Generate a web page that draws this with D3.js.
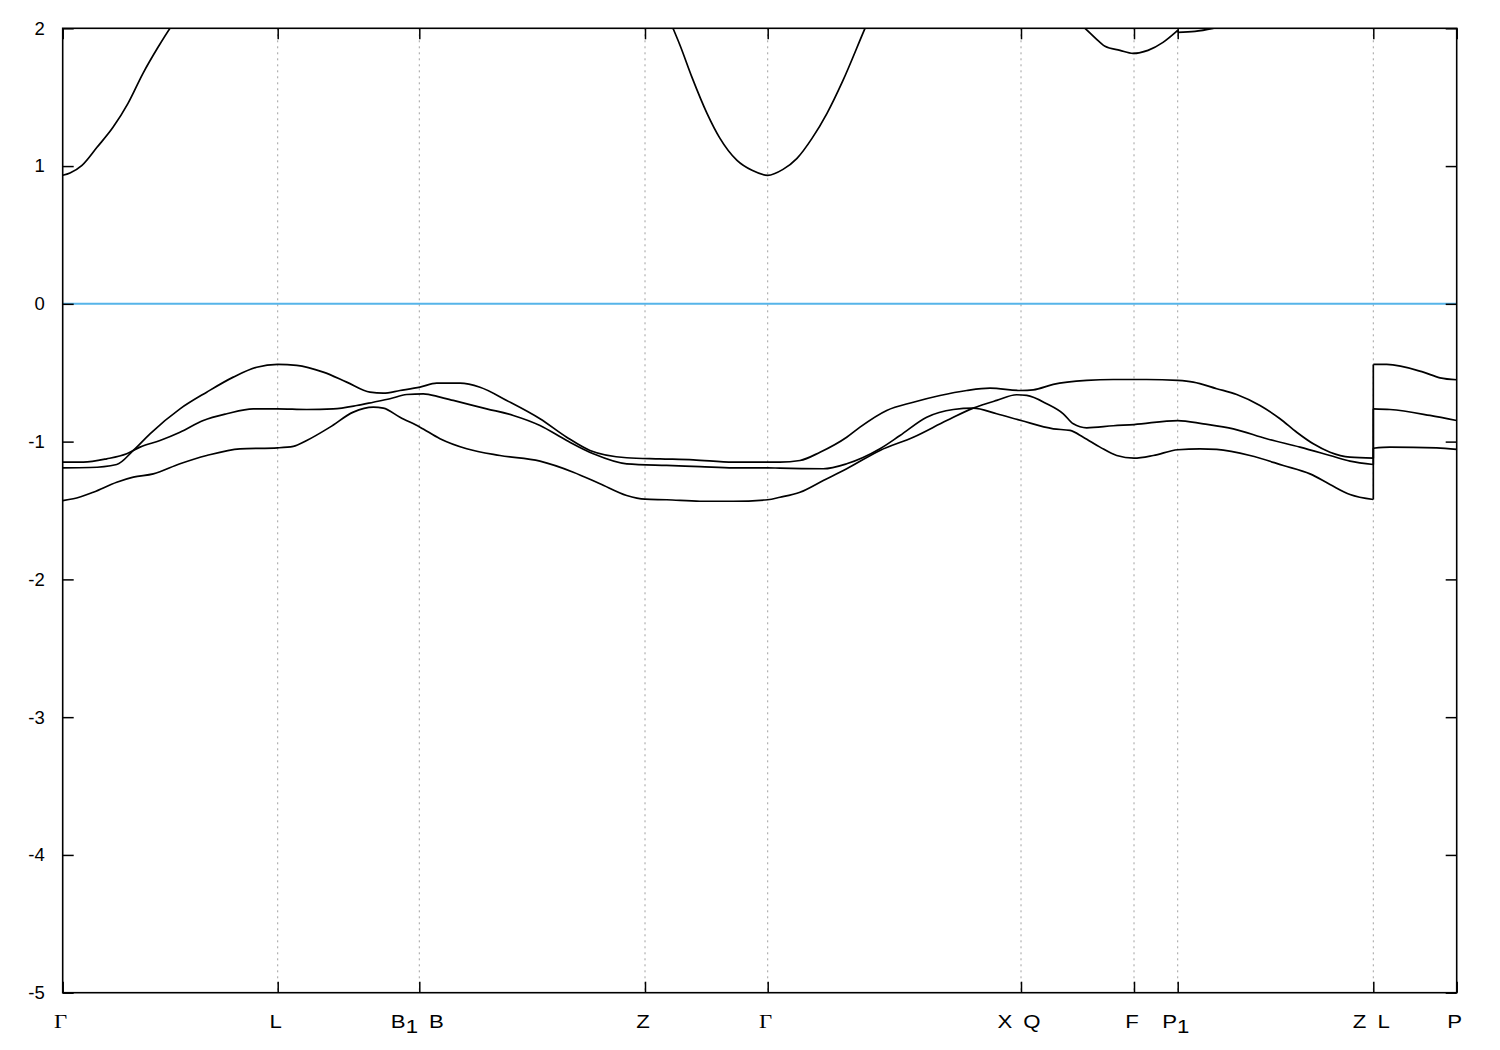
<!DOCTYPE html>
<html>
<head>
<meta charset="utf-8">
<script src="https://cdn.jsdelivr.net/npm/d3@7"></script>
<style>
  html, body { margin: 0; padding: 0; background: #ffffff; }
  svg { display: block; }
</style>
</head>
<body>
<svg id="chart" width="1500" height="1050"></svg>
<script>
// ---------------- data ----------------
const kTicks  = [0, 2.15, 3.566, 5.823, 7.05, 9.583, 10.713, 11.15, 13.106, 13.94];
const kLabels = ["Γ", "L", "B_1 B", "Z", "Γ", "X Q", "F", "P_1", "Z L", "P"];
const eTicks  = [2, 1, 0, -1, -2, -3, -4, -5];
const eDomain = [-5, 2];
const fermiLevel = 0;

// valence bands [k, E]
const band1 = [
  [0,-1.190],[0.273,-1.188],[0.54,-1.166],[0.706,-1.064],[0.873,-0.943],[1.173,-0.762],
  [1.44,-0.641],[1.706,-0.532],[1.94,-0.460],[2.15,-0.440],[2.34,-0.447],[2.606,-0.496],
  [2.84,-0.568],[3.073,-0.641],[3.206,-0.648],[3.373,-0.629],[3.573,-0.605],[3.74,-0.576],
  [3.973,-0.576],[4.173,-0.605],[4.44,-0.701],[4.773,-0.834],[5.04,-0.968],[5.273,-1.064],
  [5.64,-1.117],[5.973,-1.125],[6.306,-1.132],[6.706,-1.149],[7.05,-1.149],[7.173,-1.149],
  [7.373,-1.137],[7.573,-1.077],[7.84,-0.968],[7.973,-0.895],[8.24,-0.774],[8.506,-0.714],
  [8.773,-0.665],[9.04,-0.629],[9.273,-0.612],[9.583,-0.629],[9.706,-0.624],[9.906,-0.585],
  [10.24,-0.556],[10.506,-0.549],[10.84,-0.549],[11.15,-0.556],[11.306,-0.568],[11.54,-0.616],
  [11.74,-0.658],[11.973,-0.738],[12.173,-0.834],[12.34,-0.932],[12.506,-1.016],[12.673,-1.077],
  [12.873,-1.113],[13.106,-1.120],
  [13.106,-0.440],[13.24,-0.440],[13.606,-0.496],[13.773,-0.537],[13.94,-0.551]
];
const band2 = [
  [0,-1.149],[0.206,-1.149],[0.44,-1.125],[0.64,-1.088],[0.773,-1.040],[0.973,-0.992],
  [1.173,-0.932],[1.406,-0.847],[1.64,-0.798],[1.906,-0.762],[2.15,-0.762],[2.44,-0.767],
  [2.706,-0.762],[2.94,-0.738],[3.106,-0.714],[3.273,-0.689],[3.44,-0.658],[3.606,-0.653],
  [3.773,-0.677],[3.906,-0.701],[4.24,-0.762],[4.506,-0.810],[4.773,-0.883],[5.04,-0.992],
  [5.306,-1.088],[5.64,-1.161],[6.04,-1.173],[6.373,-1.181],[6.706,-1.190],[7.05,-1.190],
  [7.173,-1.193],[7.606,-1.197],[7.84,-1.161],[8.173,-1.052],[8.373,-0.956],[8.64,-0.823],
  [8.906,-0.767],[9.106,-0.757],[9.34,-0.798],[9.583,-0.847],[9.906,-0.907],[10.073,-0.919],
  [10.206,-0.968],[10.373,-1.040],[10.54,-1.101],[10.713,-1.120],[10.906,-1.101],[11.15,-1.059],
  [11.373,-1.052],[11.54,-1.057],[11.873,-1.101],[12.206,-1.173],[12.473,-1.234],[12.673,-1.311],
  [12.873,-1.384],[13.106,-1.420],
  [13.106,-0.762],[13.273,-0.767],[13.673,-0.810],[13.94,-0.847]
];
const band3 = [
  [0,-1.428],[0.106,-1.415],[0.306,-1.367],[0.54,-1.295],[0.706,-1.258],[0.906,-1.234],
  [1.173,-1.161],[1.44,-1.101],[1.773,-1.052],[2.15,-1.045],[2.306,-1.035],[2.44,-0.992],
  [2.673,-0.895],[2.906,-0.786],[3.106,-0.750],[3.206,-0.757],[3.373,-0.823],[3.573,-0.895],
  [3.773,-0.979],[4.04,-1.052],[4.373,-1.101],[4.773,-1.142],[5.106,-1.222],[5.373,-1.306],
  [5.64,-1.391],[5.823,-1.418],[6.04,-1.422],[6.373,-1.433],[6.706,-1.433],[7.05,-1.422],
  [7.173,-1.404],[7.373,-1.367],[7.606,-1.282],[7.84,-1.197],[8.173,-1.064],[8.506,-0.968],
  [8.84,-0.847],[9.106,-0.757],[9.34,-0.701],[9.54,-0.660],[9.64,-0.665],[9.84,-0.725],
  [10.006,-0.798],[10.106,-0.871],[10.24,-0.900],[10.506,-0.885],[10.713,-0.876],[11.15,-0.847],
  [11.406,-0.871],[11.706,-0.907],[12.04,-0.979],[12.373,-1.040],[12.673,-1.101],[12.873,-1.142],
  [13.106,-1.166],
  [13.106,-1.048],[13.273,-1.040],[13.74,-1.045],[13.94,-1.057]
];
// conduction band (values above 2 eV lie outside the visible window)
const band4 = [
  [0,0.933],[0.073,0.950],[0.193,1.005],[0.343,1.136],[0.503,1.281],[0.653,1.455],
  [0.803,1.673],[0.953,1.862],[1.073,2.0],[1.223,2.15],[2.15,2.7],[3.566,3.0],[5.823,2.45],
  [6.103,2.0],[6.173,1.877],[6.293,1.644],[6.443,1.383],[6.573,1.201],[6.743,1.041],
  [6.893,0.969],[7.05,0.933],[7.203,0.976],[7.343,1.056],[7.493,1.201],[7.643,1.383],
  [7.803,1.622],[8.023,2.0],[8.173,2.25],[9.583,2.35],[9.973,2.15],[10.223,2.0],
  [10.373,1.898],[10.423,1.869],[10.573,1.840],[10.703,1.818],[10.853,1.840],[11.003,1.898],
  [11.15,1.985],
  [11.15,1.971],[11.323,1.978],[11.503,2.0],[11.773,2.05],[13.106,2.4],[13.94,2.45]
];
const bands = [band1, band2, band3, band4];

// ---------------- layout ----------------
const plotL = 62.7, plotR = 1456.7, plotT = 28.3, plotB = 992.7;
const svg = d3.select("#chart");
const x = d3.scaleLinear().domain([kTicks[0], kTicks[kTicks.length - 1]]).range([plotL, plotR]);
const y = d3.scaleLinear().domain(eDomain).range([plotB, plotT]);

svg.append("defs").append("clipPath").attr("id", "plotClip")
  .append("rect").attr("x", plotL).attr("y", plotT)
  .attr("width", plotR - plotL).attr("height", plotB - plotT);

// grid (vertical dashed at interior high-symmetry points)
svg.append("g").selectAll("line")
  .data(kTicks.slice(1, -1))
  .join("line")
  .attr("x1", d => x(d)).attr("x2", d => x(d))
  .attr("y1", plotT).attr("y2", plotB)
  .attr("stroke", "#a0a0a0").attr("stroke-width", 1)
  .attr("stroke-dasharray", "2,4");

// Fermi level
svg.append("line")
  .attr("x1", plotL).attr("x2", plotR)
  .attr("y1", y(fermiLevel)).attr("y2", y(fermiLevel))
  .attr("stroke", "#56b4e9").attr("stroke-width", 2);

// bands
const plot = svg.append("g").attr("clip-path", "url(#plotClip)");
const line = d3.line().x(d => x(d[0])).y(d => y(d[1])).curve(d3.curveMonotoneX);
bands.forEach(b => {
  const segs = [[b[0]]];
  for (let i = 1; i < b.length; i++) {
    if (b[i][0] === b[i - 1][0]) segs.push([b[i]]);
    else segs[segs.length - 1].push(b[i]);
  }
  segs.forEach((s, i) => {
    plot.append("path").attr("d", line(s))
      .attr("fill", "none").attr("stroke", "#000").attr("stroke-width", 1.7)
      .attr("stroke-linejoin", "round");
    if (i > 0) {
      const a = segs[i - 1][segs[i - 1].length - 1], c = s[0];
      plot.append("line")
        .attr("x1", x(a[0])).attr("y1", y(a[1]))
        .attr("x2", x(c[0])).attr("y2", y(c[1]))
        .attr("stroke", "#000").attr("stroke-width", 1.7);
    }
  });
});

// axes
const font = "'Liberation Sans', Arial, Helvetica, sans-serif";
const tickLen = 11;
const yAxisL = d3.axisLeft(y).tickValues(eTicks).tickSize(-tickLen).tickSizeOuter(0).tickPadding(18)
  .tickFormat(d => String(d));
const yAxisR = d3.axisRight(y).tickValues(eTicks).tickSize(-tickLen).tickSizeOuter(0).tickFormat("");
const xAxisB = d3.axisBottom(x).tickValues(kTicks).tickSize(-tickLen).tickSizeOuter(0).tickFormat("");
const xAxisT = d3.axisTop(x).tickValues(kTicks).tickSize(-tickLen).tickSizeOuter(0).tickFormat("");

function styleAxis(g) {
  g.select(".domain").remove();
  g.selectAll(".tick line").attr("stroke", "#000").attr("stroke-width", 1.5);
  g.selectAll(".tick text").attr("fill", "#000").style("font-family", font).style("font-size", "18.5px");
}
svg.append("g").attr("transform", `translate(${plotL},0)`).call(yAxisL).call(styleAxis);
svg.append("g").attr("transform", `translate(${plotR},0)`).call(yAxisR).call(styleAxis);
svg.append("g").attr("transform", `translate(0,${plotB})`).call(xAxisB).call(styleAxis);
svg.append("g").attr("transform", `translate(0,${plotT})`).call(xAxisT).call(styleAxis);

// frame
svg.append("rect").attr("x", plotL).attr("y", plotT)
  .attr("width", plotR - plotL).attr("height", plotB - plotT)
  .attr("fill", "none").attr("stroke", "#000").attr("stroke-width", 1.6);

// k-point labels
const labG = svg.append("g");
kTicks.forEach((k, i) => {
  const lab = kLabels[i];
  const g = labG.append("g").attr("transform", `translate(${x(k) - 2},1028.3) scale(1.2,1)`);
  const t = g.append("text")
    .attr("x", 0).attr("y", 0)
    .attr("text-anchor", "middle")
    .attr("fill", "#000")
    .style("font-size", "18.5px")
    .style("word-spacing", "4px");
  if (lab === "Γ") {
    t.style("font-family", "'Liberation Serif', 'Times New Roman', serif").style("font-size", "19px").text(lab);
    return;
  }
  t.style("font-family", font);
  const parts = lab.split("_");
  t.append("tspan").text(parts[0]);
  if (parts.length > 1) {
    const sub = parts[1];
    t.append("tspan").attr("dy", 5).text(sub[0]);
    if (sub.length > 1) t.append("tspan").attr("dy", -5).text(sub.slice(1));
  }
});
</script>
</body>
</html>
